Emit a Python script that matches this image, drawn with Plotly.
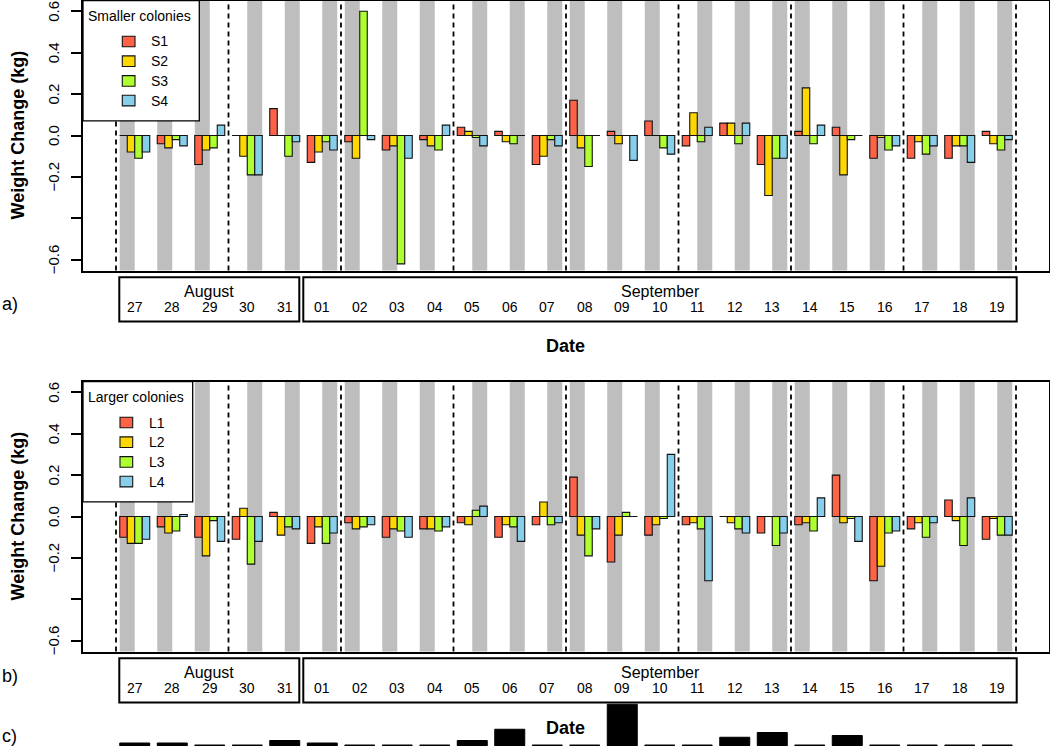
import plotly.graph_objects as go

# ---------------- data ----------------
dates = ["27", "28", "29", "30", "31", "01", "02", "03", "04", "05", "06", "07",
         "08", "09", "10", "11", "12", "13", "14", "15", "16", "17", "18", "19"]
month_names = ["August", "September"]
month_first = [0, 5]
month_last = [4, 23]

small_names = ["S1", "S2", "S3", "S4"]
S1 = [0.00, -0.04, -0.14, 0.00, 0.13, -0.13, -0.03, -0.07, -0.02, 0.04, 0.02, -0.14,
      0.17, 0.02, 0.07, -0.05, 0.06, -0.14, 0.02, 0.04, -0.11, -0.11, -0.11, 0.02]
S2 = [-0.08, -0.06, -0.07, -0.10, 0.00, -0.08, -0.11, -0.05, -0.05, 0.02, -0.03, -0.10,
      -0.06, -0.04, 0.00, 0.11, 0.06, -0.29, 0.23, -0.19, -0.01, -0.03, -0.05, -0.04]
S3 = [-0.11, -0.02, -0.06, -0.19, -0.10, -0.03, 0.60, -0.62, -0.07, -0.01, -0.04, -0.02,
      -0.15, 0.00, -0.06, -0.03, -0.04, -0.11, -0.04, -0.02, -0.07, -0.09, -0.05, -0.07]
S4 = [-0.08, -0.05, 0.05, -0.19, -0.03, -0.07, -0.02, -0.11, 0.05, -0.05, 0.00, -0.05,
      0.00, -0.12, -0.09, 0.04, 0.06, -0.11, 0.05, 0.00, -0.05, -0.05, -0.13, -0.02]

large_names = ["L1", "L2", "L3", "L4"]
L1 = [-0.10, -0.05, -0.10, -0.11, 0.02, -0.13, -0.03, -0.10, -0.06, -0.03, -0.10, -0.04,
      0.19, -0.22, -0.09, -0.04, 0.00, -0.08, -0.04, 0.20, -0.31, -0.06, 0.08, -0.11]
L2 = [-0.13, -0.08, -0.19, 0.04, -0.09, -0.05, -0.06, -0.06, -0.06, -0.04, -0.04, 0.07,
      -0.09, -0.09, -0.04, -0.03, -0.03, 0.00, -0.03, -0.03, -0.24, -0.03, -0.02, -0.01]
L3 = [-0.13, -0.07, -0.02, -0.23, -0.05, -0.13, -0.05, -0.07, -0.07, 0.03, -0.05, -0.04,
      -0.19, 0.02, -0.01, -0.06, -0.06, -0.14, -0.07, -0.01, -0.08, -0.10, -0.14, -0.09]
L4 = [-0.11, 0.01, -0.12, -0.12, -0.06, -0.08, -0.04, -0.10, -0.05, 0.05, -0.12, -0.03,
      -0.06, 0.00, 0.30, -0.31, -0.08, -0.08, 0.09, -0.12, -0.07, -0.03, 0.09, -0.09]

rain = [1.0, 1.0, 0.0, 0.0, 2.0, 1.0, 0.0, 0.0, 0.0, 2.0, 6.5, 0.0,
        0.0, 16.5, 0.0, 0.0, 3.3, 5.2, 0.0, 4.0, 0.0, 0.0, 0.0, 0.0]

series_colors = ["#FF6347", "#FFD700", "#ADFF2F", "#87CEEB"]
ytick_vals = [-0.6, -0.4, -0.2, 0.0, 0.2, 0.4, 0.6]
ytick_text = ["\u22120.6", "", "\u22120.2", "0.0", "0.2", "0.4", "0.6"]

# ---------------- layout helpers ----------------
W, H = 1050, 746
FONT = "Liberation Sans, Arial, Helvetica, sans-serif"
X_L, X_R = 83.0, 1048.5
U0_PX, PXU = 112.25, 7.5
XR = [(X_L - U0_PX) / PXU, (X_R - U0_PX) / PXU]


def fx(px):
    return px / W


def fy(py):
    return 1 - py / H


n = len(dates)
centers = [5 * i + 3 for i in range(n)]

panels = [
    dict(series=[S1, S2, S3, S4], names=small_names, title="Smaller colonies",
         top=0.5, bottom=270.5, xa="x", ya="y", label="a)", label_y=304,
         leg_right=199.3, sw_left=122.3, lab_left=150.0),
    dict(series=[L1, L2, L3, L4], names=large_names, title="Larger colonies",
         top=381.5, bottom=651.5, xa="x2", ya="y2", label="b)", label_y=676,
         leg_right=192.7, sw_left=120.0, lab_left=147.7),
]

fig = go.Figure()
shapes = []
annotations = []

stripe_offsets = [1, 6, 11, 18, 23, 28]

for p in panels:
    for j, vals in enumerate(p["series"]):
        fig.add_trace(go.Bar(
            x=centers, y=vals, width=1, offset=-2 + j, name=p["names"][j],
            marker=dict(color=series_colors[j], line=dict(color="#111111", width=1.1)),
            xaxis=p["xa"], yaxis=p["ya"], showlegend=False))
    xa, ya = p["xa"], p["ya"]
    # grey stripes
    for b in range(4):
        for o in stripe_offsets:
            s = 30 * b + o
            shapes.append(dict(type="rect", xref=xa, yref=ya + " domain", x0=s, x1=s + 2,
                               y0=0, y1=1, fillcolor="#BEBEBE", line=dict(width=0),
                               layer="below"))
    # dashed separators every three days
    for m in range(9):
        xv = 0.5 + 15 * m
        shapes.append(dict(type="line", xref=xa, yref=ya + " domain", x0=xv, x1=xv,
                           y0=0, y1=1, line=dict(color="black", width=1.8, dash="5px,4px"),
                           layer="below"))
    # zero baselines per group
    for c in centers:
        shapes.append(dict(type="line", xref=xa, yref=ya, x0=c - 2, x1=c + 2, y0=0, y1=0,
                           line=dict(color="#111111", width=1.1), layer="above"))
    # y tick labels (rotated, parallel to the axis)
    for v, t in zip(ytick_vals, ytick_text):
        if t:
            annotations.append(dict(xref="paper", yref=ya, x=fx(53.5), y=v, text=t,
                                    showarrow=False, textangle=-90, xanchor="center",
                                    yanchor="middle",
                                    font=dict(family=FONT, size=15, color="black")))
    # legend box
    top = p["top"]
    shapes.append(dict(type="rect", xref="paper", yref="paper", x0=fx(X_L), x1=fx(p["leg_right"]),
                       y0=fy(top + 120.3), y1=fy(top), fillcolor="white",
                       line=dict(color="black", width=1.3), layer="above"))
    annotations.append(dict(xref="paper", yref="paper", x=fx(86.0), y=fy(top + 15.5),
                            text=p["title"], showarrow=False, xanchor="left", yanchor="middle",
                            font=dict(family=FONT, size=14, color="black")))
    for j, nm in enumerate(p["names"]):
        cy = top + 41.0 + 19.7 * j
        shapes.append(dict(type="rect", xref="paper", yref="paper", x0=fx(p["sw_left"]),
                           x1=fx(p["sw_left"] + 12.7), y0=fy(cy + 5.3), y1=fy(cy - 5.3),
                           fillcolor=series_colors[j], line=dict(color="#111111", width=1.1),
                           layer="above"))
        annotations.append(dict(xref="paper", yref="paper", x=fx(p["lab_left"] - 1), y=fy(cy),
                                text=nm, showarrow=False, xanchor="left", yanchor="middle",
                                font=dict(family=FONT, size=14, color="black")))
    # date boxes
    B = p["bottom"]
    box_px = [(119.3, 299.3), (303.3, 1016.7)]
    for k, mname in enumerate(month_names):
        bx0, bx1 = box_px[k]
        shapes.append(dict(type="rect", xref="paper", yref="paper", x0=fx(bx0), x1=fx(bx1),
                           y0=fy(B + 51.0), y1=fy(B + 6.8), line=dict(color="black", width=2),
                           fillcolor="rgba(0,0,0,0)"))
        annotations.append(dict(xref="paper", yref="paper", x=fx((bx0 + bx1) / 2), y=fy(B + 21.0),
                                text=mname, showarrow=False, xanchor="center", yanchor="middle",
                                font=dict(family=FONT, size=16, color="black")))
    for i, d in enumerate(dates):
        annotations.append(dict(xref=xa, yref="paper", x=centers[i], y=fy(B + 36.0),
                                text=d, showarrow=False, xanchor="center", yanchor="middle",
                                font=dict(family=FONT, size=14, color="black")))
    annotations.append(dict(xref="paper", yref="paper", x=fx((X_L + X_R) / 2), y=fy(B + 76.0),
                            text="<b>Date</b>", showarrow=False, xanchor="center", yanchor="middle",
                            font=dict(family=FONT, size=18, color="black")))
    annotations.append(dict(xref="paper", yref="paper", x=fx(17), y=fy((top + B) / 2),
                            text="<b>Weight Change (kg)</b>", showarrow=False, textangle=-90,
                            xanchor="center", yanchor="middle",
                            font=dict(family=FONT, size=18, color="black")))
    annotations.append(dict(xref="paper", yref="paper", x=fx(0), y=fy(p["label_y"]),
                            text=p["label"], showarrow=False, xanchor="left", yanchor="middle",
                            font=dict(family=FONT, size=18, color="black")))

# panel c: rainfall bars
fig.add_trace(go.Bar(x=centers, y=rain, width=4, offset=-2, name="Rain",
                     marker=dict(color="black", line=dict(color="black", width=1)),
                     xaxis="x3", yaxis="y3", showlegend=False))
for c in centers:
    shapes.append(dict(type="line", xref="x3", yref="y3", x0=c - 2, x1=c + 2, y0=0, y1=0,
                       line=dict(color="black", width=2), layer="above"))
annotations.append(dict(xref="paper", yref="paper", x=fx(0), y=fy(736),
                        text="c)", showarrow=False, xanchor="left", yanchor="middle",
                        font=dict(family=FONT, size=18, color="black")))

xaxis_common = dict(domain=[fx(X_L), fx(X_R)], range=XR, showline=True, mirror=True,
                    linecolor="black", linewidth=1.5, ticks="", showticklabels=False,
                    showgrid=False, zeroline=False, fixedrange=True)
yaxis_common = dict(range=[-0.652, 0.652], tickvals=ytick_vals, ticktext=ytick_text,
                    ticks="outside", ticklen=10, tickwidth=1.5, tickcolor="black",
                    showticklabels=False,
                    showline=True, mirror=True, linecolor="black", linewidth=1.5,
                    showgrid=False, zeroline=False, fixedrange=True)

fig.update_layout(
    width=W, height=H, autosize=False,
    margin=dict(l=0, r=0, t=0, b=0, pad=0),
    paper_bgcolor="white", plot_bgcolor="rgba(0,0,0,0)",
    template="none", barmode="overlay", showlegend=False,
    font=dict(family=FONT, color="black"),
    xaxis=dict(xaxis_common, anchor="y"),
    xaxis2=dict(xaxis_common, anchor="y2"),
    xaxis3=dict(domain=[fx(X_L), fx(X_R)], range=XR, visible=False, anchor="y3", fixedrange=True),
    yaxis=dict(yaxis_common, domain=[fy(270.5), fy(0.5)], anchor="x"),
    yaxis2=dict(yaxis_common, domain=[fy(651.5), fy(381.5)], anchor="x2"),
    yaxis3=dict(domain=[0, fy(686)], range=[-0.2, 23.8], visible=False, anchor="x3", fixedrange=True),
    shapes=shapes,
    annotations=annotations,
)

fig.write_html("out.html", config={"displayModeBar": False},
               post_script="document.body.style.margin='0px';document.body.style.overflow='hidden';")
